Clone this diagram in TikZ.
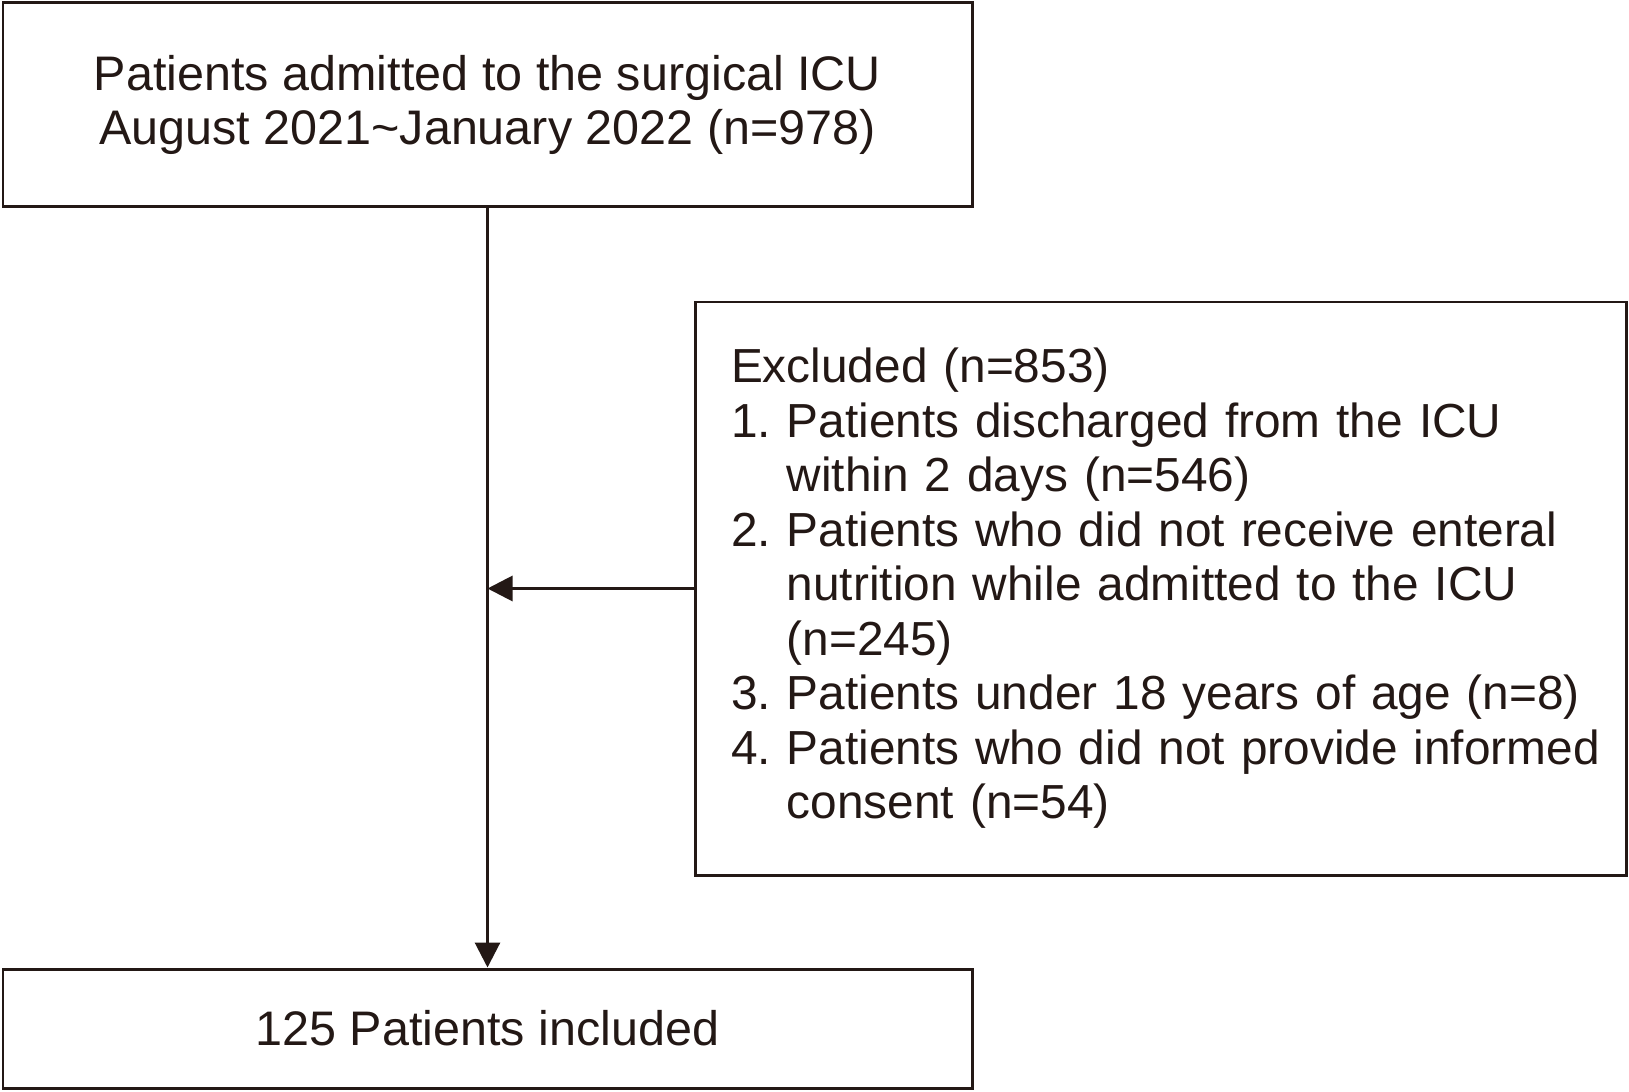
\documentclass[tikz,border=0pt]{standalone}
\usepackage{fontspec}
\setmainfont{Liberation Sans}
\usepackage{xcolor}
\usepackage{tikz}
\usetikzlibrary{arrows.meta, positioning}
\definecolor{inkdark}{HTML}{231815}
\frenchspacing
\tikzset{
  flowbox/.style={rectangle,draw=inkdark,line width=0.85pt,inner sep=0pt,text=inkdark,font=\fontsize{13.8}{15.5}\selectfont},
  mainbox/.style={flowbox,align=center,minimum width=9.69cm},
  exclbox/.style={flowbox,align=left,text width=8.59cm,inner xsep=3.6mm,minimum height=5.73cm,font=\fontsize{13.6}{15.5}\selectfont},
  flowarrow/.style={-{Triangle[length=2.5mm,width=2.5mm]},line width=0.85pt,inkdark},
}
\newcommand{\itemgap}{\hphantom{1.\ }}

\begin{document}
\begin{tikzpicture}
  \useasboundingbox (0,0) rectangle (16.29,-10.92);
  \node[mainbox,minimum height=2.04cm] (admit) at (4.875,-1.05)
    {Patients admitted to the surgical ICU\\August 2021\textasciitilde January 2022 (n=978)};
  \node[exclbox] (excl) at (11.605,-5.885)
    {\mbox{Excluded (n=853)}\\
     \mbox{1. Patients discharged from the ICU}\\
     \mbox{\itemgap within 2 days (n=546)}\\
     \mbox{2. Patients who did not receive enteral}\\
     \mbox{\itemgap nutrition while admitted to the ICU}\\
     \mbox{\itemgap (n=245)}\\
     \mbox{3. Patients under 18 years of age (n=8)}\\
     \mbox{4. Patients who did not provide informed}\\
     \mbox{\itemgap consent (n=54)}};
  \node[mainbox,minimum height=1.19cm] (incl) at (4.875,-10.285) {125 Patients included};
  \coordinate (join) at (admit.south |- excl.west);
  \draw[flowarrow] (admit) -- (incl);
  \draw[flowarrow] (excl) -- (join);
\end{tikzpicture}
\end{document}
